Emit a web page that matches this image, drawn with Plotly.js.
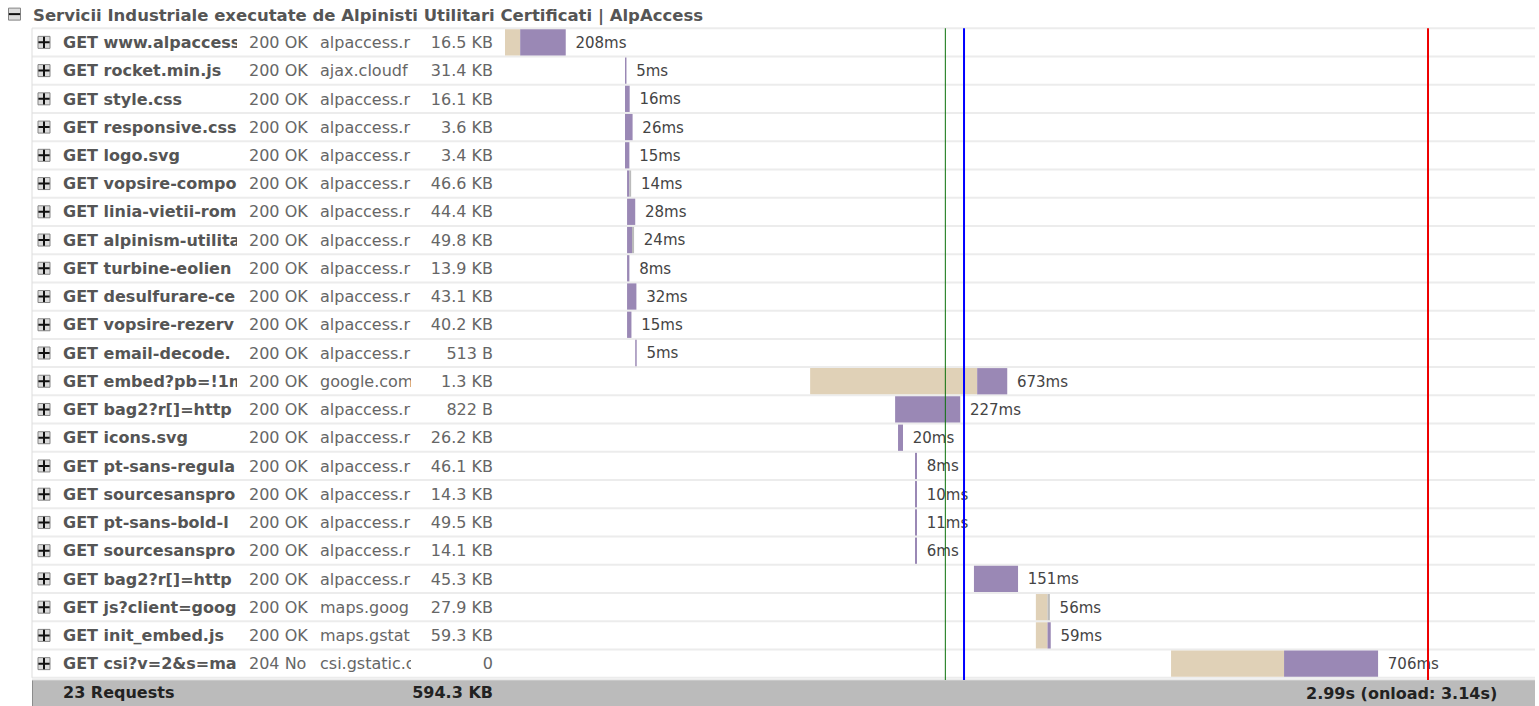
<!DOCTYPE html>
<html><head><meta charset="utf-8">
<script src="https://cdn.plot.ly/plotly-3.0.1.min.js"></script>
<style>html,body{margin:0;padding:0;background:#fff;overflow:hidden}#chart{width:1539px;height:706px}</style>
</head><body><div id="chart"></div>
<script>
// ---------- data ----------
const pageTitle = "Servicii Industriale executate de Alpinisti Utilitari Certificati | AlpAccess";
const requests = ["GET www.alpaccess","GET rocket.min.js","GET style.css","GET responsive.css","GET logo.svg",
  "GET vopsire-compo","GET linia-vietii-rom","GET alpinism-utilita","GET turbine-eolien","GET desulfurare-ce",
  "GET vopsire-rezerv","GET email-decode.","GET embed?pb=!1m","GET bag2?r[]=http","GET icons.svg",
  "GET pt-sans-regula","GET sourcesanspro","GET pt-sans-bold-l","GET sourcesanspro","GET bag2?r[]=http",
  "GET js?client=goog","GET init_embed.js","GET csi?v=2&s=ma"];
const statuses = ["200 OK","200 OK","200 OK","200 OK","200 OK","200 OK","200 OK","200 OK","200 OK","200 OK",
  "200 OK","200 OK","200 OK","200 OK","200 OK","200 OK","200 OK","200 OK","200 OK","200 OK","200 OK","200 OK","204 No"];
const domains = ["alpaccess.r","ajax.cloudf","alpaccess.r","alpaccess.r","alpaccess.r","alpaccess.r","alpaccess.r",
  "alpaccess.r","alpaccess.r","alpaccess.r","alpaccess.r","alpaccess.r","google.com","alpaccess.r","alpaccess.r",
  "alpaccess.r","alpaccess.r","alpaccess.r","alpaccess.r","alpaccess.r","maps.goog","maps.gstat","csi.gstatic.c"];
const sizes = ["16.5 KB","31.4 KB","16.1 KB","3.6 KB","3.4 KB","46.6 KB","44.4 KB","49.8 KB","13.9 KB","43.1 KB",
  "40.2 KB","513 B","1.3 KB","822 B","26.2 KB","46.1 KB","14.3 KB","49.5 KB","14.1 KB","45.3 KB","27.9 KB","59.3 KB","0"];
// timings in ms
const startMs    = [0,411,411,411,411,418,418,418,418,418,418,446,1045,1336,1346,1404,1404,1404,1404,1606,1818,1818,2281];
const blockingMs = [52,0,0,0,0,0,0,0,0,0,0,0,572,0,0,0,0,0,0,0,40,40,387];
const waitingMs  = [156,5,16,26,15,8,28,17,8,32,15,5,103,223,17,7,7,7,7,151,0,11,322];
const receivingMs= [0,0,0,0,0,6,0,7,0,0,0,0,0,0,0,0,0,0,0,0,8,0,0];
const durationLabels = ["208ms","5ms","16ms","26ms","15ms","14ms","28ms","24ms","8ms","32ms","15ms","5ms",
  "673ms","227ms","20ms","8ms","10ms","11ms","6ms","151ms","56ms","59ms","706ms"];
const eventNames = ["paint","DOMContentLoaded","load"];
const eventMs = [1508,1572,3161];
const eventColors = ["#0a700a","#0000ff","#ee0000"];
const totalRequests = "23 Requests";
const totalSize = "594.3 KB";
const totalTime = "2.99s (onload: 3.14s)";

// ---------- layout constants ----------
const W = 1539, H = 706;
const ORIGIN_PX = 505, PX_PER_MS = 0.292;
const TEXT_SHIFT = 0.06; // text baseline nudge (row units)
const px = v => v / W;
const n = requests.length;
const rows = requests.map((_, i) => i);
const FONT = "DejaVu Sans";
const FS = 16;

const colBase = {type:'linear', showgrid:false, zeroline:false, showticklabels:false, ticks:'', showline:false, fixedrange:true};
const yBase = {showgrid:false, zeroline:false, showticklabels:false, ticks:'', showline:false, fixedrange:true, domain:[0,1]};

const ends = rows.map(i => startMs[i] + blockingMs[i] + waitingMs[i] + receivingMs[i]);

const traces = [
  {type:'bar', orientation:'h', y:rows, x:blockingMs, base:startMs, width:0.93,
   marker:{color:'#e0d1b7', line:{width:0}}, xaxis:'x', yaxis:'y', hoverinfo:'skip', name:'Blocking'},
  {type:'bar', orientation:'h', y:rows, x:waitingMs, base:rows.map(i=>startMs[i]+blockingMs[i]), width:0.93,
   marker:{color:'#9a88b5', line:{width:0}}, xaxis:'x', yaxis:'y', hoverinfo:'skip', name:'Waiting'},
  {type:'bar', orientation:'h', y:rows, x:receivingMs, base:rows.map(i=>startMs[i]+blockingMs[i]+waitingMs[i]), width:0.93,
   marker:{color:'#bbbbbb', line:{width:0}}, xaxis:'x', yaxis:'y', hoverinfo:'skip', name:'Receiving'},
  {type:'scatter', mode:'markers+text', y:rows, x:ends, text:durationLabels, textposition:'middle right',
   marker:{size:14, color:'rgba(0,0,0,0)'},
   textfont:{family:FONT, size:15, color:'#444'}, xaxis:'x', yaxis:'y2', hoverinfo:'skip', cliponaxis:false},
  // url column
  {type:'scatter', mode:'text', y:rows.concat([n]), x:rows.map(()=>0).concat([0]),
   text:requests.map(s=>'<b>'+s+'</b>').concat(['<b>'+totalRequests+'</b>']), textposition:'middle right',
   textfont:{family:FONT, size:FS, color:rows.map(()=>'#555').concat(['#222'])}, xaxis:'x2', yaxis:'y2', hoverinfo:'skip', cliponaxis:true},
  // status
  {type:'scatter', mode:'text', y:rows, x:rows.map(()=>0), text:statuses, textposition:'middle right',
   textfont:{family:FONT, size:FS, color:'#666'}, xaxis:'x3', yaxis:'y2', hoverinfo:'skip', cliponaxis:true},
  // domain
  {type:'scatter', mode:'text', y:rows, x:rows.map(()=>0), text:domains, textposition:'middle right',
   textfont:{family:FONT, size:FS, color:'#666'}, xaxis:'x4', yaxis:'y2', hoverinfo:'skip', cliponaxis:true},
  // size
  {type:'scatter', mode:'text', y:rows.concat([n]), x:rows.map(()=>1).concat([1]),
   text:sizes.concat(['<b>'+totalSize+'</b>']), textposition:'middle left',
   textfont:{family:FONT, size:FS, color:rows.map(()=>'#666').concat(['#222'])}, xaxis:'x5', yaxis:'y2', hoverinfo:'skip', cliponaxis:false},
  // icons
  {type:'scatter', mode:'markers', y:[-1].concat(rows), x:[14.5].concat(rows.map(()=>44)),
   marker:{symbol:'square', size:12, color:'#dcdcdc', line:{color:'#858585', width:1}}, xaxis:'x6', yaxis:'y', hoverinfo:'skip'},
  {type:'scatter', mode:'markers', y:rows, x:rows.map(()=>44),
   marker:{symbol:'cross-thin-open', size:8, color:'#111', line:{color:'#111', width:2}}, xaxis:'x6', yaxis:'y', hoverinfo:'skip'},
  {type:'scatter', mode:'markers', y:[-1], x:[14.5],
   marker:{symbol:'line-ew-open', size:8, color:'#111', line:{color:'#111', width:2}}, xaxis:'x6', yaxis:'y', hoverinfo:'skip'}
];

const shapes = [];
// row separators
for (let i = -1; i < n; i++) {
  shapes.push({type:'line', xref:'paper', yref:'y', x0:px(32), x1:px(1535), y0:i+0.5, y1:i+0.5,
    line:{color:'#ececec', width:2}, layer:'below'});
}
// left tree border
shapes.push({type:'line', xref:'paper', yref:'y', x0:px(32), x1:px(32), y0:-0.5, y1:n-0.5, line:{color:'#dddddd', width:1}, layer:'below'});
// footer band
shapes.push({type:'rect', xref:'paper', yref:'y', x0:px(32), x1:px(1535), y0:n-0.42, y1:n+0.6,
  fillcolor:'#bbbbbb', line:{width:0}, layer:'below'});
shapes.push({type:'line', xref:'paper', yref:'y', x0:px(32.5), x1:px(32.5), y0:n-0.42, y1:n+0.6, line:{color:'#8c8c8c', width:1}, layer:'below'});
shapes.push({type:'line', xref:'paper', yref:'y', x0:px(32), x1:px(1535), y0:n-0.42, y1:n-0.42, line:{color:'#d6d6d6', width:1}, layer:'below'});
// event lines
eventMs.forEach((t, k) => {
  shapes.push({type:'line', xref:'x', yref:'y', x0:t, x1:t, y0:-0.5, y1:n-0.42,
    line:{color:eventColors[k], width:k===0?1:2}, layer:'above'});
});

const layout = {
  width:W, height:H, margin:{l:0,r:0,t:0,b:0}, paper_bgcolor:'#fff', plot_bgcolor:'rgba(0,0,0,0)',
  showlegend:false, barmode:'overlay', font:{family:FONT},
  yaxis:Object.assign({}, yBase, {range:[n+0.5, -1.5]}),
  yaxis2:Object.assign({}, yBase, {range:[n+0.5-TEXT_SHIFT, -1.5-TEXT_SHIFT], overlaying:'y'}),
  xaxis:Object.assign({}, colBase, {domain:[0,1], range:[-ORIGIN_PX/PX_PER_MS, (W-ORIGIN_PX)/PX_PER_MS], anchor:'y'}),
  xaxis2:Object.assign({}, colBase, {domain:[px(63), px(237)], range:[0,1], anchor:'y'}),
  xaxis3:Object.assign({}, colBase, {domain:[px(249), px(313)], range:[0,1], anchor:'y'}),
  xaxis4:Object.assign({}, colBase, {domain:[px(320), px(411)], range:[0,1], anchor:'y'}),
  xaxis5:Object.assign({}, colBase, {domain:[px(420), px(493)], range:[0,1], anchor:'y'}),
  xaxis6:Object.assign({}, colBase, {domain:[0, px(60)], range:[0,60], anchor:'y'}),
  shapes:shapes,
  annotations:[
    {xref:'paper', yref:'y2', x:px(31), y:-1, xanchor:'left', yanchor:'middle', showarrow:false,
     text:'<b>'+pageTitle+'</b>', font:{family:FONT, size:16.5, color:'#555'}},
    {xref:'paper', yref:'y2', x:px(1499), y:n, xanchor:'right', yanchor:'middle', showarrow:false,
     text:'<b>'+totalTime+'</b>', font:{family:FONT, size:FS, color:'#222'}}
  ]
};
Plotly.newPlot('chart', traces, layout, {staticPlot:true, displayModeBar:false});
</script></body></html>
